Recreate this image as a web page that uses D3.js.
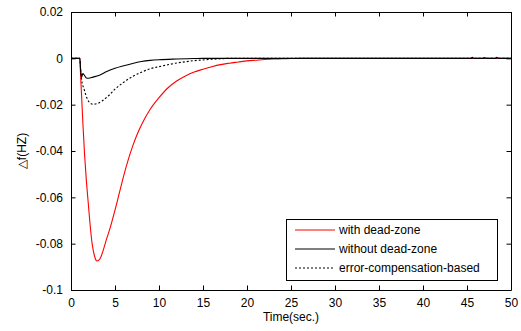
<!DOCTYPE html>
<html>
<head>
<meta charset="utf-8">
<script src="https://cdn.jsdelivr.net/npm/d3@7"></script>
<style>
html,body{margin:0;padding:0;background:#fff;}
svg{display:block;}
text{font-family:"Liberation Sans",Arial,sans-serif;font-size:12px;fill:#000;}
</style>
</head>
<body>
<svg id="chart" width="521" height="331"></svg>
<script>
// ---- data ----
const xTicks = [0,5,10,15,20,25,30,35,40,45,50];
const yTicks = [0.02,0,-0.02,-0.04,-0.06,-0.08,-0.1];
const yTickLabels = ["0.02","0","-0.02","-0.04","-0.06","-0.08","-0.1"];
const seriesNames = ["with dead-zone","without dead-zone","error-compensation-based"];

const redT = [0,1.0,1.05,1.2,1.35,1.55,1.75,1.95,2.15,2.4,2.65,2.95,3.3,3.65,4.0,4.5,5.0,5.5,6.0,6.5,7,7.5,8,9,10,11,12,13,14,15,16,17,18,19,20,21,22,23,24,25,26,50];
const redV = [0,0,-0.004,-0.016,-0.028,-0.042,-0.053,-0.062,-0.071,-0.080,-0.085,-0.0875,-0.0865,-0.083,-0.0785,-0.0725,-0.0655,-0.058,-0.0505,-0.0438,-0.038,-0.033,-0.0288,-0.022,-0.017,-0.0128,-0.0098,-0.0076,-0.0059,-0.0047,-0.0036,-0.0027,-0.0021,-0.0016,-0.0011,-0.0008,-0.0005,-0.0003,-0.0002,-0.0001,0,0];

const blackT = [0,1.0,1.1,1.2,1.35,1.5,1.75,2.0,2.5,3.3,4,5,6,7,8,9,10,12,14,15,45.4,45.6,45.8,46.8,47,47.2,48.2,48.4,48.6,50];
const blackV = [0,0,-0.005,-0.0082,-0.0066,-0.0072,-0.0085,-0.0086,-0.0081,-0.0072,-0.0058,-0.0043,-0.0032,-0.0022,-0.0014,-0.0009,-0.0006,-0.0003,-0.0001,0,0,0.0004,0,0,0.0003,0,0,0.0004,0,0];

const dotT = [0,1.0,1.1,1.2,1.5,1.8,2.1,2.5,3.0,3.5,4,4.5,5,5.5,6,7,8,9,10,11,12,13,14,15,16,17,18,50];
const dotV = [0,0,-0.005,-0.009,-0.0135,-0.017,-0.019,-0.0198,-0.0195,-0.0185,-0.017,-0.0153,-0.0133,-0.0117,-0.0103,-0.0078,-0.006,-0.0045,-0.0036,-0.0028,-0.002,-0.0015,-0.001,-0.0007,-0.0004,-0.0002,0,0];

// ---- layout ----
const svg = d3.select("#chart");
const L = 71, R = 511, T = 12, B = 290;
const x = d3.scaleLinear().domain([0,50]).range([L,R]);
const y = d3.scaleLinear().domain([-0.1,0.02]).range([B,T]);

svg.append("clipPath").attr("id","clip").append("rect")
  .attr("x",L).attr("y",T).attr("width",R-L).attr("height",B-T);

const line = d3.line().x(d=>x(d[0])).y(d=>y(d[1])).curve(d3.curveMonotoneX);
const g = svg.append("g").attr("clip-path","url(#clip)");
const mk = (T_,V_) => T_.map((t,i)=>[t,V_[i]]);

g.append("path").attr("d",line(mk(redT,redV))).attr("fill","none").attr("stroke","#ff0000").attr("stroke-width",1.1);
g.append("path").attr("d",line(mk(blackT,blackV))).attr("fill","none").attr("stroke","#000").attr("stroke-width",1.1);
g.append("path").attr("d",line(mk(dotT,dotV))).attr("fill","none").attr("stroke","#000").attr("stroke-width",1.1).attr("stroke-dasharray","2,2");

// ---- axes (MATLAB box with inward ticks) ----
const tl = 4.5;
const axB = d3.axisBottom(x).tickValues(xTicks).tickSizeInner(-tl).tickSizeOuter(0).tickPadding(8);
const axT = d3.axisTop(x).tickValues(xTicks).tickSizeInner(-tl).tickSizeOuter(0).tickFormat("");
const axLf = d3.axisLeft(y).tickValues(yTicks).tickSizeInner(-tl).tickSizeOuter(0).tickPadding(8)
  .tickFormat((d,i)=>yTickLabels[i]);
const axRt = d3.axisRight(y).tickValues(yTicks).tickSizeInner(-tl).tickSizeOuter(0).tickFormat("");

function style(sel){
  sel.selectAll("path.domain").attr("stroke","#000").attr("stroke-width",1);
  sel.selectAll(".tick line").attr("stroke","#000").attr("stroke-width",1);
  sel.selectAll("text").attr("font-family","Liberation Sans, Arial, sans-serif").attr("font-size",12).attr("fill","#000");
}
svg.append("g").attr("transform",`translate(0,${B})`).call(axB).call(style);
svg.append("g").attr("transform",`translate(0,${T})`).call(axT).call(style);
svg.append("g").attr("transform",`translate(${L},0)`).call(axLf).call(style);
svg.append("g").attr("transform",`translate(${R},0)`).call(axRt).call(style);

// axis labels
svg.append("text").attr("x",(L+R)/2).attr("y",321).attr("text-anchor","middle").text("Time(sec.)");
svg.append("text").attr("transform",`translate(26,${(T+B)/2}) rotate(-90)`).attr("text-anchor","middle").text("△f(HZ)");

// ---- legend ----
const lg = svg.append("g");
lg.append("rect").attr("x",286.5).attr("y",219.5).attr("width",211).attr("height",61)
  .attr("fill","#fff").attr("stroke","#000").attr("stroke-width",1);
const lstyles = [
  {stroke:"#ff0000", dash:null},
  {stroke:"#000", dash:null},
  {stroke:"#000", dash:"2,2"}
];
seriesNames.forEach((name,i)=>{
  const yy = 230 + i*19;
  const ln = lg.append("line").attr("x1",295).attr("x2",335).attr("y1",yy).attr("y2",yy)
    .attr("stroke",lstyles[i].stroke).attr("stroke-width",1.1);
  if(lstyles[i].dash) ln.attr("stroke-dasharray",lstyles[i].dash);
  lg.append("text").attr("x",339).attr("y",yy+4).text(name);
});
</script>
</body>
</html>
